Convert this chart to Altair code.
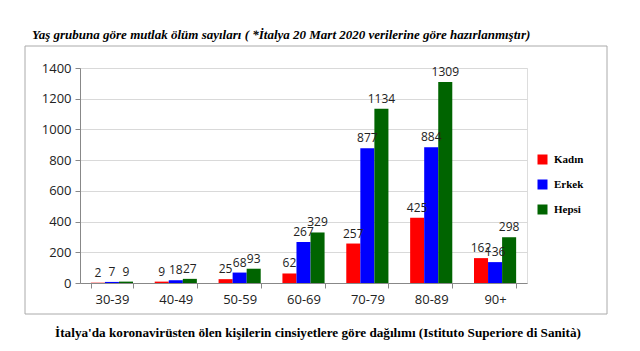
import altair as alt
import pandas as pd

groups = ["30-39", "40-49", "50-59", "60-69", "70-79", "80-89", "90+"]
series = ["Kadın", "Erkek", "Hepsi"]
kadin = [2, 9, 25, 62, 257, 425, 162]
erkek = [7, 18, 68, 267, 877, 884, 136]
hepsi = [9, 27, 93, 329, 1134, 1309, 298]
colors = ["#ff0000", "#0000ff", "#006400"]
y_ticks = [0, 200, 400, 600, 800, 1000, 1200, 1400]

title_text = "Yaş grubuna göre mutlak ölüm sayıları ( *İtalya 20 Mart 2020 verilerine göre hazırlanmıştır)"
caption_text = "İtalya'da koronavirüsten ölen kişilerin cinsiyetlere göre dağılımı (Istituto Superiore di Sanità)"

rows = []
for i, g in enumerate(groups):
    for s, vals in zip(series, [kadin, erkek, hepsi]):
        rows.append({"grup": g, "seri": s, "deger": vals[i]})
df = pd.DataFrame(rows)

W, H = 447, 215

yenc = alt.Y("deger:Q", scale=alt.Scale(domain=[0, 1400], nice=False),
             axis=alt.Axis(title=None, values=y_ticks, format="d", labelOverlap=False,
                           labelFont="Open Sans", labelFontSize=13, labelColor="#222",
                           tickSize=5, tickColor="#888", domainColor="#888",
                           gridColor="#d9d9d9", labelPadding=4))

base = alt.Chart(df).encode(
    x=alt.X("grup:N", sort=groups,
            scale=alt.Scale(paddingInner=0.34, paddingOuter=0.17),
            axis=alt.Axis(title=None, labelAngle=0, labelFont="Open Sans", labelFontSize=13,
                          labelColor="#222", tickBand="extent", tickSize=5, tickColor="#888",
                          domainColor="#888", labelPadding=5, grid=False)),
    xOffset=alt.XOffset("seri:N", sort=series, scale=alt.Scale(paddingInner=0, paddingOuter=0)),
    y=yenc,
)

bars = base.mark_bar().encode(
    color=alt.Color("seri:N", sort=series, scale=alt.Scale(domain=series, range=colors),
                    legend=alt.Legend(title=None, orient="none", legendX=457, legendY=86,
                                      symbolType="square", symbolSize=100, symbolStrokeWidth=0,
                                      labelFont="Liberation Serif", labelFontWeight="bold",
                                      labelFontSize=11, rowPadding=13, labelOffset=6)),
)

labels = base.mark_text(dy=-10, font="Open Sans", fontSize=12, color="#222").encode(
    text=alt.Text("deger:Q"),
)

frame = alt.Chart(pd.DataFrame({"a": [0]})).mark_rect(fill=None, stroke="#aaaaaa", strokeWidth=1).encode(
    x=alt.value(-55), x2=alt.value(527), y=alt.value(-22), y2=alt.value(246)
)

title = alt.Chart(pd.DataFrame({"t": [title_text]})).mark_text(
    font="Liberation Serif", fontSize=13, fontWeight="bold", fontStyle="italic",
    align="left", baseline="middle", color="#000"
).encode(x=alt.value(-48), y=alt.value(-33), text="t:N")

caption = alt.Chart(pd.DataFrame({"t": [caption_text]})).mark_text(
    font="Liberation Serif", fontSize=13.2, fontWeight="bold",
    align="center", baseline="middle", color="#000"
).encode(x=alt.value(238), y=alt.value(265), text="t:N")

chart = alt.layer(frame, bars, labels, title, caption).properties(
    width=W, height=H,
    autosize=alt.AutoSizeParams(type="none"),
    padding={"left": 80, "top": 68, "right": 113, "bottom": 68},
).configure_view(stroke=None).configure(background="white")

chart.save("out.html", embed_options={"renderer": "svg", "actions": False})
